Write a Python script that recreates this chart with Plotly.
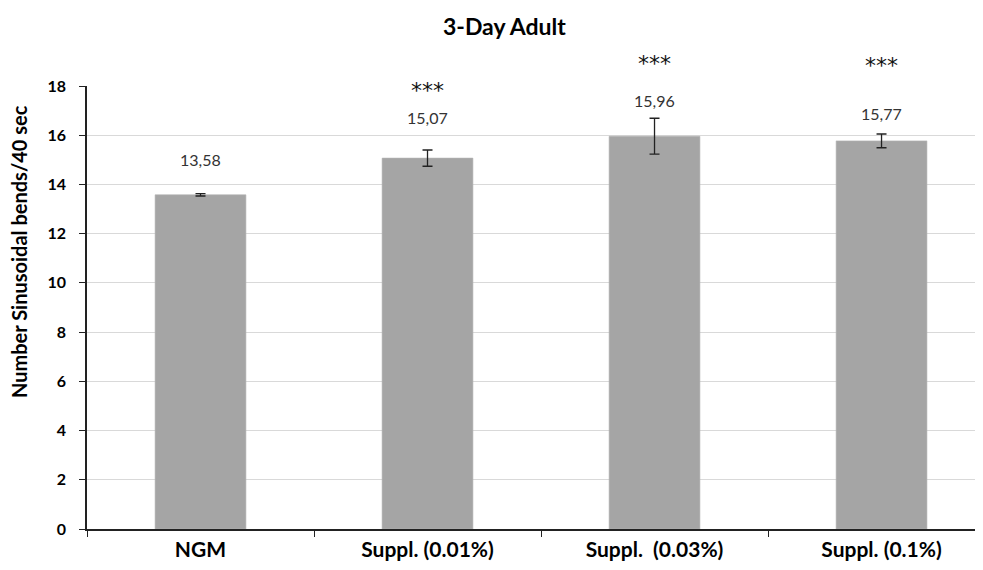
import plotly.graph_objects as go

categories = ["NGM", "Suppl. (0.01%)", "Suppl.  (0.03%)", "Suppl. (0.1%)"]
values = [13.58, 15.07, 15.96, 15.77]
errors = [0.05, 0.33, 0.73, 0.28]
value_labels = ["13,58", "15,07", "15,96", "15,77"]
significance = ["", "***", "***", "***"]

label_y = [15.0, 16.7, 17.4, 16.87]
star_y = [None, 17.8, 18.9, 18.85]

FONT = "Lato, Carlito, Calibri, sans-serif"
STAR_FONT = "DejaVu Sans, sans-serif"
Y_MAX = 18

fig = go.Figure()
fig.add_trace(go.Bar(
    x=categories, y=values, width=0.4,
    marker=dict(color="#a5a5a5", line=dict(color="#b3b3b3", width=0.6)),
    error_y=dict(type="data", array=errors, visible=True, color="#222222",
                 thickness=1.3, width=5),
    showlegend=False, hoverinfo="x+y",
))

for i, c in enumerate(categories):
    fig.add_annotation(x=c, y=label_y[i], text=value_labels[i], showarrow=False,
                       font=dict(family=FONT, size=16, color="#333333"),
                       xref="x", yref="y", yanchor="middle")
    if significance[i]:
        fig.add_annotation(x=c, y=star_y[i] / Y_MAX, text=significance[i], showarrow=False,
                           font=dict(family=STAR_FONT, size=22, color="#111111"),
                           xref="x", yref="paper", yanchor="middle")

fig.add_annotation(text="<b>3-Day Adult</b>", x=(504 - 87) / 896, xref="paper",
                   y=1, yref="paper", yanchor="middle", yshift=60, showarrow=False,
                   font=dict(family=FONT, size=23, color="#000000"))

fig.add_annotation(text="<b>Number Sinusoidal bends/40 sec</b>", textangle=-90,
                   x=0, xref="paper", xanchor="center", xshift=-68,
                   y=(529 - 252) / (529 - 86), yref="paper", yanchor="middle",
                   showarrow=False,
                   font=dict(family=FONT, size=20, color="#000000"))

fig.update_layout(
    width=975, height=562,
    margin=dict(l=79, r=0, t=78, b=41, autoexpand=False),
    paper_bgcolor="white", plot_bgcolor="white",
    font=dict(family=FONT, color="#000000"),
)
fig.update_xaxes(
    type="category", range=[-0.5, 3.447],
    showline=True, linecolor="#222222", linewidth=1.5,
    ticks="outside", tickson="boundaries", ticklen=6, tickcolor="#222222",
    tickwidth=1.3, showgrid=False, automargin=False,
    tickfont=dict(family=FONT, size=21, color="#000000", weight="bold"),
    ticklabelstandoff=1,
)
fig.update_yaxes(
    range=[0, Y_MAX], dtick=2, tick0=0,
    showline=True, linecolor="#222222", linewidth=1.5,
    ticks="outside", ticklen=6, tickcolor="#222222", tickwidth=1.3,
    showgrid=True, gridcolor="#d9d9d9", gridwidth=1.3,
    zeroline=False, automargin=False,
    tickfont=dict(family=FONT, size=16, color="#000000", weight="bold"),
    ticklabelstandoff=10,
)

fig.write_html("out.html")
